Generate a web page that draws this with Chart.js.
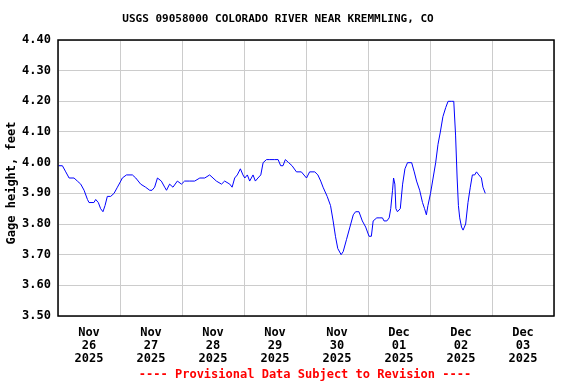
<!DOCTYPE html>
<html>
<head>
<meta charset="utf-8">
<script src="https://cdn.jsdelivr.net/npm/chart.js@4.4.1/dist/chart.umd.min.js"></script>
<style>
  html, body { margin: 0; padding: 0; background: #fff; }
  #wrap { width: 576px; height: 384px; }
</style>
</head>
<body>
<div id="wrap"><canvas id="myChart" width="576" height="384"></canvas></div>
<script>
'use strict';

const chartTitle = 'USGS 09058000 COLORADO RIVER NEAR KREMMLING, CO';
const yTitle = 'Gage height, feet';
const footNote = '---- Provisional Data Subject to Revision ----';

// x axis runs Nov 26 00:00 -> Dec 04 00:00, in hours
const tickMonths = ['Nov', 'Nov', 'Nov', 'Nov', 'Nov', 'Dec', 'Dec', 'Dec'];
const tickDays = ['26', '27', '28', '29', '30', '01', '02', '03'];
const tickYear = '2025';

// hours since Nov 26 00:00
const hours = [
  0.2, 1.7, 3.0, 4.3, 6.2, 7.5, 8.8, 10.1, 11.4, 12.0, 13.9, 14.6, 15.6, 16.5, 17.4, 18.2,
  19.1, 20.4, 21.7, 23.0, 24.3, 24.9, 26.5, 28.8, 30.1, 32.0, 33.9, 35.5, 36.4, 37.4, 38.5,
  40.0, 41.3, 42.0, 43.2, 44.5, 46.2, 47.8, 49.0, 51.0, 52.9, 54.9, 56.8, 58.7, 60.0, 61.3,
  63.3, 64.5, 66.5, 67.4, 68.4, 69.4, 70.6, 71.6, 72.3, 73.3, 74.2, 75.5, 76.4, 77.4, 78.5,
  79.4, 80.7, 82.0, 83.9, 85.2, 86.2, 87.1, 88.0, 89.3, 90.6, 92.3, 94.2, 96.2, 97.4, 99.4,
  100.6, 101.7, 102.6, 104.2, 105.5, 106.5, 107.4, 108.3, 109.6, 110.4, 111.7, 113.0, 114.3,
  115.2, 116.5, 117.8, 119.1, 120.4, 121.3, 122.0, 123.4, 124.3, 125.6, 126.2, 127.3, 128.2,
  128.8, 129.5, 129.9, 130.4, 130.8, 131.4, 132.5, 133.4, 134.3, 135.3, 136.9, 137.9, 138.8,
  140.0, 141.1, 141.9, 142.6, 143.2, 144.2, 145.2, 146.2, 147.1, 148.0, 149.0, 150.1, 151.0,
  152.3, 153.2, 153.9, 154.5, 155.0, 155.5, 156.2, 156.8, 157.8, 158.7, 159.6, 160.4, 161.3,
  162.0, 162.9, 163.9, 164.5, 165.4
];
const gageHeight = [
  3.99, 3.99, 3.97, 3.95, 3.95, 3.94, 3.93, 3.91, 3.88, 3.87, 3.87, 3.88, 3.87, 3.85, 3.84, 3.86,
  3.89, 3.89, 3.90, 3.92, 3.94, 3.95, 3.96, 3.96, 3.95, 3.93, 3.92, 3.91, 3.91, 3.92, 3.95,
  3.94, 3.92, 3.91, 3.93, 3.92, 3.94, 3.93, 3.94, 3.94, 3.94, 3.95, 3.95, 3.96, 3.95, 3.94,
  3.93, 3.94, 3.93, 3.92, 3.95, 3.96, 3.98, 3.96, 3.95, 3.96, 3.94, 3.96, 3.94, 3.95, 3.96,
  4.00, 4.01, 4.01, 4.01, 4.01, 3.99, 3.99, 4.01, 4.00, 3.99, 3.97, 3.97, 3.95, 3.97, 3.97,
  3.96, 3.94, 3.92, 3.89, 3.86, 3.81, 3.76, 3.72, 3.70, 3.71, 3.75, 3.79, 3.83,
  3.84, 3.84, 3.81, 3.79, 3.76, 3.76, 3.81, 3.82, 3.82, 3.82, 3.81, 3.81, 3.82,
  3.85, 3.91, 3.95, 3.93, 3.85, 3.84, 3.85, 3.93, 3.98, 4.00, 4.00, 3.97, 3.94,
  3.91, 3.87, 3.85, 3.83, 3.86, 3.90, 3.95, 4.00, 4.06, 4.10, 4.15, 4.18, 4.20,
  4.20, 4.20, 4.09, 3.95, 3.86, 3.82, 3.79, 3.78, 3.80, 3.87, 3.92, 3.96, 3.96,
  3.97, 3.96, 3.95, 3.92, 3.90
];

const monoFont = '"DejaVu Sans Mono", "Liberation Mono", monospace';

// border box, chart title, axis title and footnote
const extras = {
  id: 'extras',
  afterDraw(chart) {
    const ctx = chart.ctx;
    const a = chart.chartArea;
    ctx.save();
    ctx.strokeStyle = '#000';
    ctx.lineWidth = 1.5;
    ctx.strokeRect(a.left, a.top, a.right - a.left, a.bottom - a.top);

    ctx.fillStyle = '#000';
    ctx.textAlign = 'center';
    ctx.textBaseline = 'middle';
    ctx.font = 'bold 11px ' + monoFont;
    ctx.fillText(chartTitle, 278, 19);

    ctx.font = 'bold 12px ' + monoFont;
    ctx.save();
    ctx.translate(12, 183);
    ctx.rotate(-Math.PI / 2);
    ctx.fillText(yTitle, 0, 0);
    ctx.restore();

    ctx.fillStyle = '#ff0000';
    ctx.fillText(footNote, 305, 375);
    ctx.restore();
  }
};

const points = [];
for (let i = 0; i < hours.length; i++) {
  points.push({x: hours[i], y: gageHeight[i]});
}

const ctx = document.getElementById('myChart').getContext('2d');
const myChart = new Chart(ctx, {
  type: 'line',
  data: {
    datasets: [{
      data: points,
      borderColor: '#0000ff',
      borderWidth: 1,
      pointRadius: 0,
      tension: 0,
      fill: false
    }]
  },
  options: {
    responsive: false,
    animation: false,
    events: [],
    layout: {
      padding: {left: 0, top: 40, right: 22, bottom: 0}
    },
    plugins: {
      legend: {display: false},
      tooltip: {enabled: false}
    },
    scales: {
      x: {
        type: 'linear',
        min: 0,
        max: 192,
        afterFit(scale) { scale.height = 68; },
        grid: {color: '#cccccc', lineWidth: 1, drawTicks: false},
        border: {display: false},
        ticks: {
          stepSize: 24,
          autoSkip: false,
          maxRotation: 0,
          padding: 10,
          labelOffset: 31,
          color: '#000',
          font: {family: monoFont, size: 12, weight: 'bold', lineHeight: 1.1},
          callback(value) {
            const i = Math.round(value / 24);
            if (i >= tickDays.length) return '';
            return [tickMonths[i], tickDays[i], tickYear];
          }
        }
      },
      y: {
        min: 3.5,
        max: 4.4,
        afterFit(scale) { scale.width = 58; },
        grid: {color: '#cccccc', lineWidth: 1, drawTicks: false},
        border: {display: false},
        ticks: {
          stepSize: 0.1,
          padding: 7,
          color: '#000',
          font: {family: monoFont, size: 12, weight: 'bold'},
          callback(value) { return Number(value).toFixed(2); }
        }
      }
    }
  },
  plugins: [extras]
});
</script>
</body>
</html>
